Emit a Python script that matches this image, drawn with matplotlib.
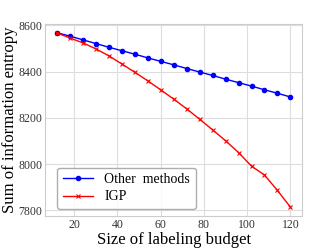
import matplotlib
matplotlib.use("Agg")
import matplotlib.pyplot as plt

budget = [12, 18, 24, 30, 36, 42, 48, 54, 60, 66, 72, 78, 84, 90, 96, 102, 108, 114, 120]
other = [8568, 8553, 8537, 8521, 8505, 8490, 8475, 8459, 8444, 8429, 8413, 8398,
         8383, 8367, 8352, 8337, 8321, 8306, 8290]
igp = [8567, 8545, 8524, 8498, 8468, 8433, 8397, 8360, 8321, 8281, 8239, 8194,
       8148, 8101, 8050, 7991, 7953, 7886, 7814]
yticks = [7800, 8000, 8200, 8400, 8600]
xticks = [20, 40, 60, 80, 100, 120]

plt.rcParams['font.family'] = ['Liberation Serif', 'DejaVu Serif']
fig = plt.figure(figsize=(3.32, 2.49), dpi=100)
ax = fig.add_axes([0.136, 0.133, 0.774, 0.771])
ax.grid(True, color='#dddddd', linewidth=0.8)
ax.set_axisbelow(True)
for s in ax.spines.values():
    s.set_color('#cccccc')
    s.set_linewidth(0.8)
ax.plot(budget, other, color='blue', marker='o', markersize=3, linewidth=1, label='Other  methods')
ax.plot(budget, igp, color='red', marker='x', markersize=3, markeredgewidth=0.8, linewidth=1, label='IGP')
ax.set_yticks(yticks)
ax.set_xticks(xticks)
ax.tick_params(labelsize=8.5, length=0, pad=2, colors='#333333')
ax.set_xlabel('Size of labeling budget', fontsize=12, labelpad=1)
ax.set_ylabel('Sum of information entropy', fontsize=12)
ax.yaxis.set_label_coords(-0.105, 0.5)
leg = ax.legend(loc='lower left', fontsize=10, frameon=True, fancybox=True,
                edgecolor='#999999', borderpad=0.4, handlelength=2.2,
                labelspacing=0.3, borderaxespad=0.5,
                bbox_to_anchor=(0.02, 0.0))
fig.savefig('out.png', dpi=100)
